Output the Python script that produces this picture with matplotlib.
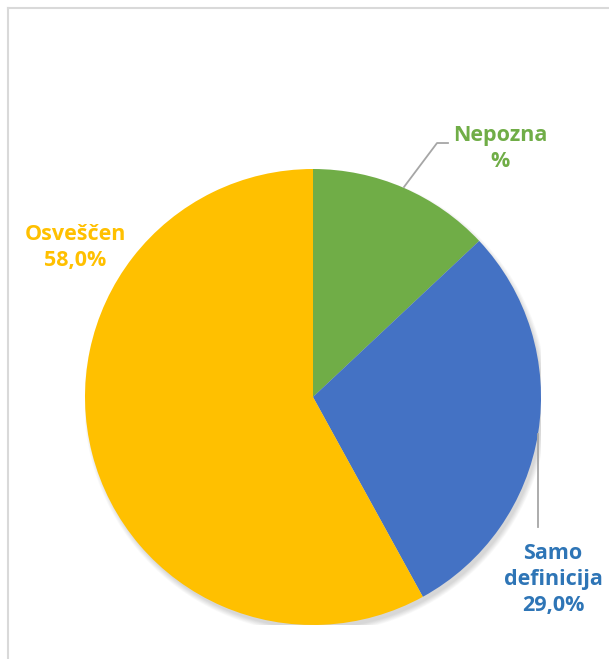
import matplotlib.pyplot as plt
from matplotlib.lines import Line2D
from matplotlib.patches import Circle

# DATA
labels = ['Nepozna', 'Samo definicija', 'Osveščen']
values = [13.0, 29.0, 58.0]
label_texts = ['Nepozna\n%', 'Samo\ndefinicija\n29,0%', 'Osveščen\n58,0%']
colors = ['#70AD47', '#4472C4', '#FFC000']
text_colors = ['#70AD47', '#2E75B6', '#FFC000']

W, H = 609, 659
fig = plt.figure(figsize=(W / 100, H / 100), dpi=100)

# PIE AXES: CENTER (313, 397) PX, RADIUS 228 PX
cx, cy, r = 313, H - 397, 228
ax = fig.add_axes([(cx - r) / W, (cy - r) / H, 2 * r / W, 2 * r / H])
ax.set_xlim(-1, 1)
ax.set_ylim(-1, 1)
ax.set_aspect('equal')
ax.axis('off')

# SOFT SHADOW (BOTTOM RIGHT)
for k in range(8):
    ax.add_patch(Circle((0.012, -0.02), 1 - 0.004 + k * 0.003, color='black',
                        alpha=0.02, lw=0, zorder=0))

ax.pie(values, colors=colors, startangle=90, counterclock=False, radius=1,
       wedgeprops=dict(linewidth=0), center=(0, 0), frame=False)
ax.set_xlim(-1, 1)
ax.set_ylim(-1, 1)

font = dict(family=['Open Sans', 'DejaVu Sans'], fontsize=15.5, fontweight='bold',
            ha='center', va='center', linespacing=1.32)
label_pos = [(0.82, 1.09), (1.053, -0.80), (-1.044, 0.655)]
for txt, pos, c in zip(label_texts, label_pos, text_colors):
    ax.text(pos[0], pos[1], txt, color=c, clip_on=False, **font)

# LEADER LINES
ax.plot([0.399, 0.544, 0.592], [0.921, 1.114, 1.114], color='#A6A6A6',
        lw=1.3, clip_on=False)
ax.plot([0.987, 0.987], [-0.162, -0.570], color='#A6A6A6', lw=1.3,
        clip_on=False)

# CHART FRAME
fig.add_artist(Line2D([8 / W, 8 / W], [0, 1 - 8 / H], color='#D9D9D9', lw=1.5))
fig.add_artist(Line2D([8 / W, 1], [1 - 8 / H, 1 - 8 / H], color='#D9D9D9', lw=1.5))

fig.savefig('out.png', dpi=100)
